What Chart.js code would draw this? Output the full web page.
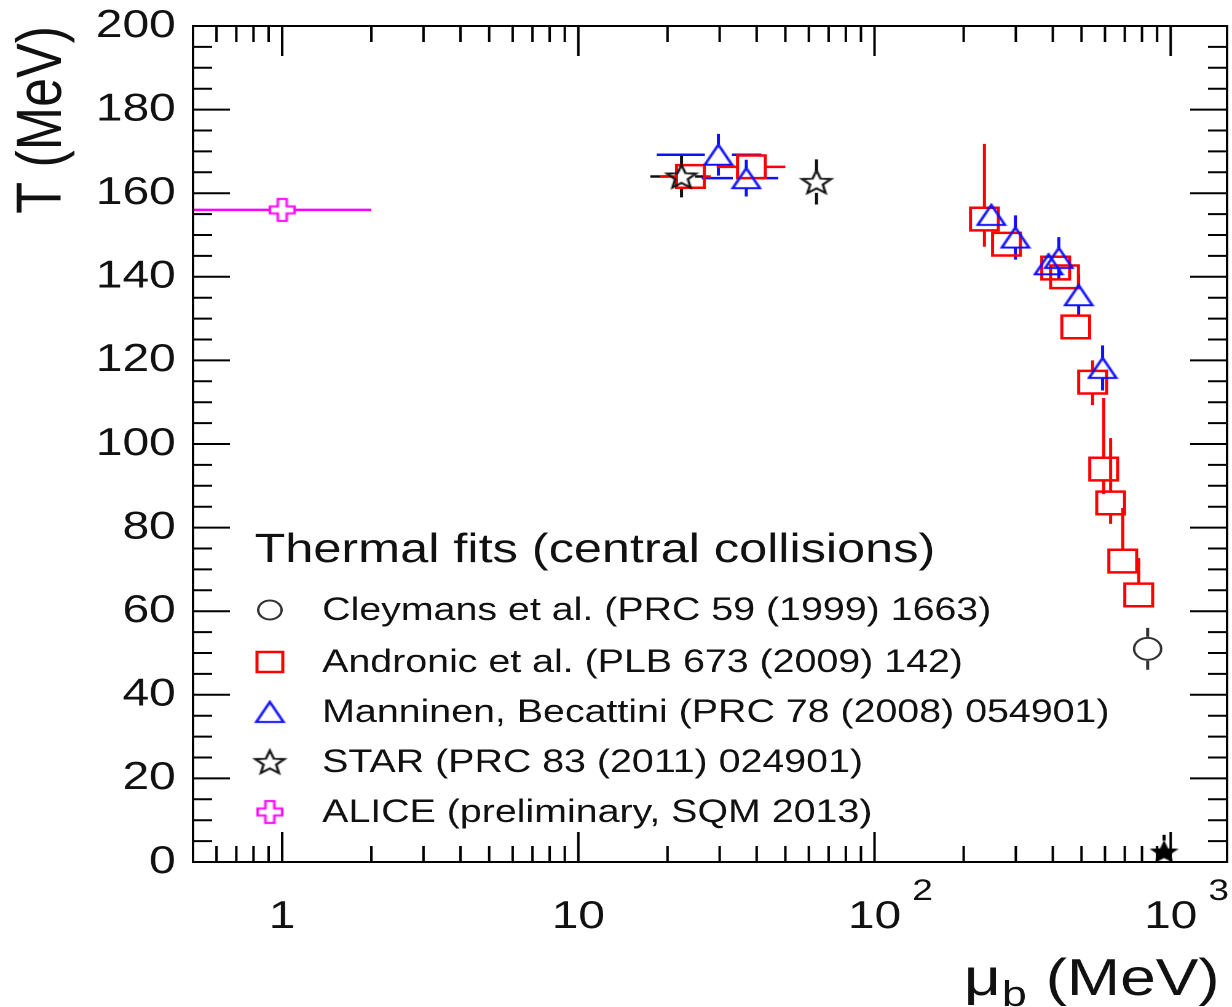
<!DOCTYPE html>
<html>
<head>
<meta charset="utf-8">
<title>Thermal fits (central collisions)</title>
<script src="https://cdn.jsdelivr.net/npm/chart.js@4/dist/chart.umd.min.js"></script>
<style>
  html, body { margin: 0; padding: 0; background: #fff; overflow: hidden; }
  /* the plot is laid out on a 1002px wide canvas and stretched to the page width */
  #wrap { width: 1002px; height: 1007px; transform: scaleX(1.2295); transform-origin: 0 0; }
</style>
</head>
<body>
<div id="wrap"><canvas id="thermalChart" width="1002" height="1007"></canvas></div>
<script>
// ---- data (mu_b in MeV, T in MeV) ----
const cleymansMu = [836];
const cleymansT = [51];
const cleymansTPlus = [5];
const cleymansTMinus = [5];

const andronicMu = [23.9, 38.4, 235, 279, 409, 438, 478, 545, 594, 627, 689, 780];
const andronicT = [164, 166.3, 153.8, 147.8, 142.1, 140, 128, 114.8, 94, 85.9, 72, 63.9];
const andronicTPlus = [0, 0, 18, 0, 0, 0, 0, 5.2, 17, 15.5, 12.7, 8.8];
const andronicTMinus = [0, 0, 6.6, 0, 0, 0, 0, 5.5, 6, 5, 2, 2];
const andronicMuLow = [18.9, 29.3, null, null, null, null, null, null, null, null, null, null];
const andronicMuHigh = [28, 50, null, null, null, null, null, null, null, null, null, null];

const manninenMu = [29.7, 36.9, 248, 299, 387, 419, 489, 589];
const manninenT = [169.2, 163.6, 154.8, 149.4, 143, 144.5, 135.6, 118.2];
const manninenTErr = [5, 4.4, 0, 5.3, 0, 5, 5, 5.4];
const manninenMuLow = [18.4, 26.1, null, null, null, null, null, null];
const manninenMuHigh = [41.5, 47.3, null, null, null, null, null, null];

const starMu = [22.3, 63.7];
const starT = [164, 162.7];
const starTErr = [5, 5.4];
const starMuLow = [17.5, null];
const starMuHigh = [27, null];

const groundMu = [950];
const groundT = [2.5];
const groundTPlus = [4];

const aliceMu = [1];
const aliceT = [156];
const aliceMuLow = [0.01];
const aliceMuHigh = [2];

const yTicks = [0, 20, 40, 60, 80, 100, 120, 140, 160, 180, 200];
const xTicks = [1, 10, 100, 1000];
const xTickLabels = ['1', '10', '10', '10'];
const xTickPowers = ['', '', '2', '3'];

const FONT = "'Liberation Sans', Arial, Helvetica, sans-serif";
const INK = '#111';

// ---- marker sprites (ROOT-like open markers) ----
function sprite(w, h, draw) {
  const c = document.createElement('canvas');
  c.width = w; c.height = h;
  draw(c.getContext('2d'), w / 2, h / 2);
  return c;
}

function starPath(g, cx, cy, R, r) {
  g.beginPath();
  for (let i = 0; i < 10; i++) {
    const a = -Math.PI / 2 + i * Math.PI / 5;
    const rad = i % 2 === 0 ? R : r;
    g.lineTo(cx + rad * Math.cos(a), cy + rad * Math.sin(a));
  }
  g.closePath();
}

const triMarker = sprite(26, 24, (g, cx, cy) => {
  g.strokeStyle = '#1010ff'; g.lineWidth = 2.2;
  g.beginPath();
  g.moveTo(cx, cy - 10); g.lineTo(cx + 11, cy + 10); g.lineTo(cx - 11, cy + 10);
  g.closePath(); g.stroke();
});

const starMarker = sprite(30, 30, (g, cx, cy) => {
  g.strokeStyle = '#111'; g.lineWidth = 2;
  starPath(g, cx, cy + 1, 12.5, 5.4); g.stroke();
});

const solidStar = sprite(30, 30, (g, cx, cy) => {
  g.fillStyle = '#000';
  starPath(g, cx, cy + 1, 12.5, 5.4); g.fill();
});

const crossMarker = sprite(24, 26, (g, cx, cy) => {
  const W = 10, H = 11, t = 3.6;
  g.strokeStyle = '#ff00ff'; g.lineWidth = 2;
  g.beginPath();
  [[-t, -H], [t, -H], [t, -t], [W, -t], [W, t], [t, t], [t, H], [-t, H], [-t, t], [-W, t], [-W, -t], [-t, -t]]
    .forEach(([dx, dy]) => g.lineTo(cx + dx, cy + dy));
  g.closePath(); g.stroke();
});

// ---- build point tables ----
function points(mu, t) {
  return mu.map((m, i) => ({ x: m, y: t[i] }));
}
function errs(n, tPlus, tMinus, muLow, muHigh) {
  const out = [];
  for (let i = 0; i < n; i++) {
    out.push({
      yhi: tPlus ? tPlus[i] : 0,
      ylo: tMinus ? tMinus[i] : 0,
      xlo: muLow ? muLow[i] : null,
      xhi: muHigh ? muHigh[i] : null
    });
  }
  return out;
}

const datasets = [
  {
    label: 'ALICE (preliminary, SQM 2013)',
    data: points(aliceMu, aliceT),
    errors: errs(1, null, null, aliceMuLow, aliceMuHigh),
    gap: [10, 11],
    pointStyle: crossMarker, pointRadius: 11,
    borderColor: '#ff00ff', backgroundColor: 'transparent'
  },
  {
    label: 'STAR (PRC 83 (2011) 024901)',
    data: points(starMu, starT),
    errors: errs(2, starTErr, starTErr, starMuLow, starMuHigh),
    gap: [11, 11],
    pointStyle: starMarker, pointRadius: 12,
    borderColor: '#111', backgroundColor: 'transparent'
  },
  {
    label: 'Manninen, Becattini (PRC 78 (2008) 054901)',
    data: points(manninenMu, manninenT),
    errors: errs(8, manninenTErr, manninenTErr, manninenMuLow, manninenMuHigh),
    gap: [11, 10],
    pointStyle: triMarker, pointRadius: 11,
    borderColor: '#1010ff', backgroundColor: 'transparent'
  },
  {
    label: 'Andronic et al. (PLB 673 (2009) 142)',
    data: points(andronicMu, andronicT),
    errors: errs(12, andronicTPlus, andronicTMinus, andronicMuLow, andronicMuHigh),
    gap: [11.5, 11.5],
    pointStyle: 'rect', pointRadius: 16,
    borderWidth: 2.5, borderColor: '#ff0000', backgroundColor: 'transparent'
  },
  {
    label: 'Cleymans et al. (PRC 59 (1999) 1663)',
    data: points(cleymansMu, cleymansT),
    errors: errs(1, cleymansTPlus, cleymansTMinus),
    gap: [12, 12],
    pointStyle: 'circle', pointRadius: 11,
    borderWidth: 2, borderColor: '#333', backgroundColor: 'transparent'
  },
  {
    label: 'nuclear matter',
    data: points(groundMu, groundT),
    errors: errs(1, groundTPlus, null),
    gap: [11, 11],
    pointStyle: solidStar, pointRadius: 12,
    borderColor: '#000', backgroundColor: '#000'
  }
];

// legend entries, top to bottom
const legendOrder = [4, 3, 2, 1, 0];

// ---- plugins ----
const errorBars = {
  id: 'errorBars',
  beforeDatasetsDraw(chart) {
    const { ctx, chartArea: a, scales: { x, y } } = chart;
    ctx.save();
    ctx.beginPath();
    ctx.rect(a.left, a.top, a.right - a.left, a.bottom - a.top);
    ctx.clip();
    ctx.lineWidth = 2.5;
    chart.data.datasets.forEach(ds => {
      ctx.strokeStyle = ds.borderColor;
      ds.data.forEach((p, i) => {
        const e = ds.errors[i];
        const px = x.getPixelForValue(p.x);
        const py = y.getPixelForValue(p.y);
        const [gx, gy] = ds.gap;
        ctx.beginPath();
        if (e.yhi) {
          const top = y.getPixelForValue(p.y + e.yhi);
          if (py - top > gy) { ctx.moveTo(px, py - gy); ctx.lineTo(px, top); }
        }
        if (e.ylo) {
          const bot = y.getPixelForValue(p.y - e.ylo);
          if (bot - py > gy) { ctx.moveTo(px, py + gy); ctx.lineTo(px, bot); }
        }
        if (e.xlo !== null) {
          const left = Math.max(x.getPixelForValue(e.xlo), a.left - 5);
          if (px - left > gx) { ctx.moveTo(px - gx, py); ctx.lineTo(left, py); }
        }
        if (e.xhi !== null) {
          const right = x.getPixelForValue(e.xhi);
          if (right - px > gx) { ctx.moveTo(px + gx, py); ctx.lineTo(right, py); }
        }
        ctx.stroke();
      });
    });
    ctx.restore();
  }
};

// frame with inward ticks on all four sides
const rootFrame = {
  id: 'rootFrame',
  afterDatasetsDraw(chart) {
    const { ctx, chartArea: a, scales: { x, y } } = chart;
    ctx.save();
    ctx.strokeStyle = '#000';
    ctx.lineWidth = 2;
    ctx.strokeRect(a.left, a.top, a.right - a.left, a.bottom - a.top);
    ctx.beginPath();
    for (let v = 0; v <= 200; v += 5) {
      const py = y.getPixelForValue(v);
      const len = v % 20 === 0 ? 30 : 15.5;
      ctx.moveTo(a.left, py); ctx.lineTo(a.left + len, py);
      ctx.moveTo(a.right, py); ctx.lineTo(a.right - len, py);
    }
    [0.1, 1, 10, 100, 1000].forEach(d => {
      for (let k = 1; k <= 9; k++) {
        const v = k * d;
        if (v < x.min || v > x.max) continue;
        const px = x.getPixelForValue(v);
        const len = k === 1 ? 30 : 16;
        ctx.moveTo(px, a.bottom); ctx.lineTo(px, a.bottom - len);
        ctx.moveTo(px, a.top); ctx.lineTo(px, a.top + len);
      }
    });
    ctx.stroke();
    ctx.restore();
  }
};

// decade exponents, x title and legend
const annotations = {
  id: 'annotations',
  afterDraw(chart) {
    const { ctx, scales: { x } } = chart;
    ctx.save();
    ctx.fillStyle = INK;
    ctx.textBaseline = 'alphabetic';

    // exponents for 10^2, 10^3
    ctx.font = '39px ' + FONT;
    const tenW = ctx.measureText('10').width;
    ctx.font = '30px ' + FONT;
    ctx.textAlign = 'left';
    xTicks.forEach((v, i) => {
      if (!xTickPowers[i]) return;
      ctx.fillText(xTickPowers[i], x.getPixelForValue(v) + tenW / 2 + 9, 900);
    });

    // x axis title: mu_b (MeV), right aligned
    const big = '52px ' + FONT, small = '36px ' + FONT;
    ctx.font = big;
    const muW = ctx.measureText('\u03bc').width;
    const restW = ctx.measureText(' (MeV)').width;
    ctx.font = small;
    const bW = ctx.measureText('b').width;
    let tx = 992 - restW - bW - muW - 2;
    ctx.font = big;
    ctx.fillText('\u03bc', tx, 995);
    tx += muW + 1;
    ctx.font = small;
    ctx.fillText('b', tx, 1006);
    tx += bW + 1;
    ctx.font = big;
    ctx.fillText(' (MeV)', tx, 995);

    // legend
    ctx.font = '41px ' + FONT;
    ctx.fillText('Thermal fits (central collisions)', 207, 562);
    ctx.font = '32px ' + FONT;
    ctx.textBaseline = 'middle';
    const rowY = [610, 662, 712, 762, 812];
    legendOrder.forEach((di, row) => {
      const ds = chart.data.datasets[di];
      const cy = rowY[row], cx = 219.5;
      const st = ds.pointStyle;
      if (typeof st === 'object') {
        ctx.drawImage(st, cx - st.width / 2, cy - st.height / 2);
      } else {
        ctx.strokeStyle = ds.borderColor;
        ctx.lineWidth = ds.borderWidth;
        ctx.beginPath();
        if (st === 'circle') ctx.arc(cx, cy, 9.5, 0, Math.PI * 2);
        else ctx.rect(cx - 10.5, cy - 10, 21, 20);
        ctx.stroke();
      }
      ctx.fillStyle = INK;
      ctx.fillText(ds.label, 262, cy + 1);
    });
    ctx.restore();
  }
};

// ---- chart ----
Chart.defaults.color = INK;
Chart.defaults.font.family = FONT;

const ctx = document.getElementById('thermalChart').getContext('2d');
const thermalChart = new Chart(ctx, {
  type: 'scatter',
  data: { datasets: datasets },
  plugins: [errorBars, rootFrame, annotations],
  options: {
    responsive: false,
    animation: false,
    devicePixelRatio: 2,
    // big markers would otherwise shrink the plot area
    layout: { autoPadding: false, padding: { left: 0, top: 26, right: 4, bottom: 0 } },
    plugins: {
      legend: { display: false },
      tooltip: { enabled: false }
    },
    elements: { point: { borderWidth: 2.2, hoverRadius: 0 } },
    scales: {
      x: {
        type: 'logarithmic',
        min: 0.5,
        max: 1550,
        grid: { display: false, drawTicks: false },
        border: { display: false },
        afterBuildTicks: axis => { axis.ticks = xTicks.map(v => ({ value: v })); },
        afterFit: axis => {
          axis.height = 145;
          axis.paddingLeft = 0;
          axis.paddingRight = 0;
        },
        ticks: {
          padding: 32,
          maxRotation: 0,
          autoSkip: false,
          font: { size: 39 },
          callback: (v) => xTickLabels[xTicks.indexOf(v)]
        }
      },
      y: {
        min: 0,
        max: 200,
        grid: { display: false, drawTicks: false },
        border: { display: false },
        afterBuildTicks: axis => { axis.ticks = yTicks.map(v => ({ value: v })); },
        afterFit: axis => {
          axis.width = 157;
          axis.paddingTop = 0;
          axis.paddingBottom = 0;
        },
        ticks: { padding: 14, font: { size: 39 } },
        title: {
          display: true,
          text: 'T (MeV)',
          align: 'end',
          font: { size: 52 },
          padding: { top: 4, bottom: 0 }
        }
      }
    }
  }
});
</script>
</body>
</html>
